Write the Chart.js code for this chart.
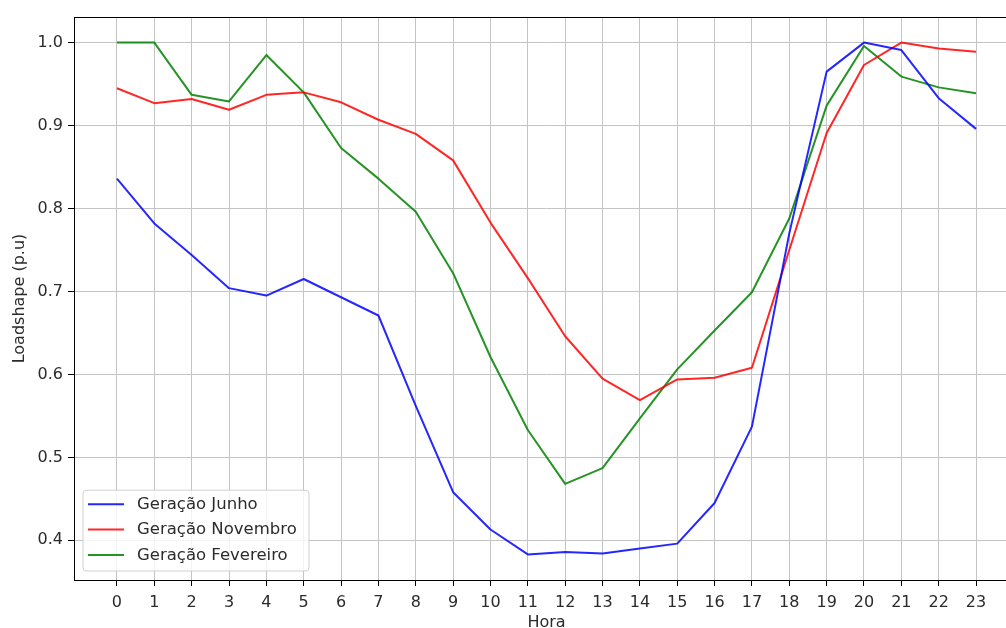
<!DOCTYPE html>
<html>
<head>
<meta charset="utf-8">
<script src="https://cdn.jsdelivr.net/npm/chart.js@4/dist/chart.umd.min.js"></script>
<style>
  html, body { margin: 0; padding: 0; background: #fff; overflow: hidden; }
  #wrap { width: 1030px; height: 628px; position: relative; }
</style>
</head>
<body>
<div id="wrap"><canvas id="c" width="1030" height="628"></canvas></div>
<script>
// Hourly loadshape for three generation profiles (p.u.)
const hours = [0,1,2,3,4,5,6,7,8,9,10,11,12,13,14,15,16,17,18,19,20,21,22,23];
const geracaoJunho = [0.836, 0.782, 0.744, 0.704, 0.695, 0.715, 0.693, 0.671, 0.562, 0.458, 0.413, 0.383,
                      0.386, 0.384, 0.390, 0.396, 0.445, 0.537, 0.770, 0.965, 1.000, 0.991, 0.933, 0.896];
const geracaoNovembro = [0.945, 0.927, 0.932, 0.919, 0.937, 0.940, 0.928, 0.907, 0.890, 0.858, 0.783, 0.716,
                         0.646, 0.595, 0.569, 0.594, 0.596, 0.608, 0.750, 0.891, 0.973, 1.000, 0.993, 0.989];
const geracaoFevereiro = [1.000, 1.000, 0.937, 0.929, 0.985, 0.940, 0.873, 0.836, 0.796, 0.722, 0.621, 0.533,
                          0.468, 0.487, 0.547, 0.606, 0.653, 0.699, 0.788, 0.924, 0.996, 0.959, 0.946, 0.939];
const yTicks = [0.4, 0.5, 0.6, 0.7, 0.8, 0.9, 1.0];
const seriesLabels = ['Geração Junho', 'Geração Novembro', 'Geração Fevereiro'];

const FONT = 'DejaVu Sans';
const FS = 16;
const TEXT = '#2b2b2b';

// 5% margins around the data range, like the usual autoscale
const allVals = geracaoJunho.concat(geracaoNovembro, geracaoFevereiro);
const yMinData = Math.min(...allVals), yMaxData = Math.max(...allVals);
const yPad = (yMaxData - yMinData) * 0.05;
const xPad = (hours[hours.length - 1] - hours[0]) * 0.05;

function pts(vals) { return hours.map((h, i) => ({ x: h, y: vals[i] })); }

// Axes frame (spines) drawn over the lines
const framePlugin = {
  id: 'frame',
  afterDatasetsDraw(chart) {
    const { ctx, chartArea: a } = chart;
    ctx.save();
    ctx.strokeStyle = '#000';
    ctx.lineWidth = 1;
    ctx.strokeRect(Math.round(a.left) + 0.5, Math.round(a.top) + 0.5,
                   Math.round(a.right - a.left), Math.round(a.bottom - a.top));
    ctx.restore();
  }
};

// Legend box in the lower-left corner of the plot area
const innerLegend = {
  id: 'innerLegend',
  afterDraw(chart) {
    const { ctx, chartArea: a } = chart;
    const ds = chart.data.datasets;
    const rowH = 25.4;
    const boxW = 226, boxH = 14 + rowH * (ds.length - 1) + 15 + 1;
    const x0 = a.left + 9, y0 = a.bottom - 9 - boxH;
    ctx.save();
    ctx.fillStyle = 'rgba(255,255,255,0.8)';
    ctx.strokeStyle = 'rgba(204,204,204,0.9)';
    ctx.lineWidth = 1;
    const r = 3;
    ctx.beginPath();
    ctx.moveTo(x0 + r, y0);
    ctx.arcTo(x0 + boxW, y0, x0 + boxW, y0 + boxH, r);
    ctx.arcTo(x0 + boxW, y0 + boxH, x0, y0 + boxH, r);
    ctx.arcTo(x0, y0 + boxH, x0, y0, r);
    ctx.arcTo(x0, y0, x0 + boxW, y0, r);
    ctx.closePath();
    ctx.fill();
    ctx.stroke();
    ctx.font = (FS + 0.5) + 'px "' + FONT + '"';
    ctx.textBaseline = 'middle';
    ds.forEach((d, i) => {
      const cy = y0 + 14 + i * rowH;
      ctx.strokeStyle = d.borderColor;
      ctx.lineWidth = 2;
      ctx.beginPath();
      ctx.moveTo(x0 + 5, cy);
      ctx.lineTo(x0 + 41, cy);
      ctx.stroke();
      ctx.fillStyle = TEXT;
      ctx.fillText(d.label, x0 + 54, cy + 0.5);
    });
    ctx.restore();
  }
};

const colors = ['rgba(0,0,255,0.85)', 'rgba(255,0,0,0.85)', 'rgba(0,128,0,0.85)'];
const seriesVals = [geracaoJunho, geracaoNovembro, geracaoFevereiro];

new Chart(document.getElementById('c'), {
  type: 'line',
  data: {
    datasets: seriesVals.map((vals, i) => ({
      label: seriesLabels[i],
      data: pts(vals),
      borderColor: colors[i],
      backgroundColor: colors[i],
      borderWidth: 2,
      borderJoinStyle: 'round',
      pointRadius: 0,
      tension: 0,
      fill: false
    }))
  },
  options: {
    responsive: false,
    animation: false,
    layout: { padding: { top: 17, right: 11, left: 0, bottom: 0 } },
    plugins: { legend: { display: false }, tooltip: { enabled: false } },
    scales: {
      x: {
        type: 'linear',
        min: hours[0] - xPad,
        max: hours[hours.length - 1] + xPad,
        afterBuildTicks(s) { s.ticks = hours.map(v => ({ value: v })); },
        afterFit(s) { s.height = 48; },
        grid: { color: '#c4c4c4', lineWidth: 1, tickLength: 6, tickColor: '#000', tickWidth: 1 },
        border: { display: false },
        ticks: { color: TEXT, font: { family: FONT, size: FS }, padding: 7, maxRotation: 0, autoSkip: false,
                 callback: v => String(v) },
        title: { display: true, text: 'Hora', color: TEXT, font: { family: FONT, size: FS, lineHeight: 0.625 },
                 padding: { top: 0, bottom: 0 } }
      },
      y: {
        type: 'linear',
        min: yMinData - yPad,
        max: yMaxData + yPad,
        afterBuildTicks(s) { s.ticks = yTicks.map(v => ({ value: v })); },
        afterFit(s) { s.width = 74; },
        grid: { color: '#c4c4c4', lineWidth: 1, tickLength: 6, tickColor: '#000', tickWidth: 1 },
        border: { display: false },
        ticks: { color: TEXT, font: { family: FONT, size: FS }, padding: 5,
                 callback: v => Number(v).toFixed(1) },
        title: { display: true, text: 'Loadshape (p.u)', color: TEXT, font: { family: FONT, size: FS, lineHeight: 1.0 },
                 padding: { top: 12, bottom: 0 } }
      }
    }
  },
  plugins: [framePlugin, innerLegend]
});
</script>
</body>
</html>
